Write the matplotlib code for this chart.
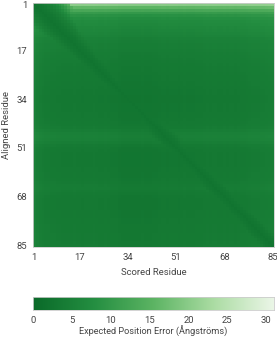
import numpy as np
import matplotlib
matplotlib.use("Agg")
import matplotlib.pyplot as plt
from matplotlib.colors import LinearSegmentedColormap

plt.rcParams['font.family'] = ['Roboto', 'DejaVu Sans']

# residue labels
tick_residues = [1, 17, 34, 51, 68, 85]
cbar_ticks = [0, 5, 10, 15, 20, 25, 30]

# expected error per aligned residue (row)
row_err = [19, 15, 12, 9.5, 8, 7, 6.5, 6.2, 5.8, 5.5,
           5.2, 4.9, 4.4, 4.2, 4, 4, 3.8, 3.6, 3.5, 3.4,
           3.3, 3.2, 3.1, 3.1, 3, 2.9, 2.9, 2.8, 2.8, 2.7,
           2.6, 2.6, 2.5, 2.5, 2.5, 2.6, 2.6, 2.6, 2.7, 2.7,
           2.8, 2.9, 3, 3.2, 3.7, 4.2, 4.4, 4.2, 3.7, 3.1,
           2.8, 2.7, 2.6, 2.6, 2.6, 2.6, 2.6, 2.7, 2.7, 2.8,
           2.8, 2.9, 3.1, 3.3, 3.4, 3.2, 3, 2.8, 2.7, 2.7,
           2.7, 2.7, 2.8, 2.8, 2.8, 2.9, 2.9, 3, 3, 3,
           3.1, 3.1, 3.1, 3.2, 3.3]
# extra error per scored residue (column)
col_err = [2, 1.5, 1.2, 1, 0.8, 0.8, 0.7, 0.7, 0.6, 0.6,
           0.5, 0.5, 0.5, 0.5, 0.6, 0.5, 0.5, 0.4, 0.5, 0.5,
           0.5, 0.6, 0.5, 0.4, 0.4, 0.5, 0.4, 0.3, 0.3, 0.3,
           0.1, 0, 0, 0, 0, 0, 0, 0, 0.1, 0,
           0, 0, 0.1, 0.1, 0.2, 0.3, 0.3, 0.2, 0.3, 0.3,
           0.3, 0.2, 0.3, 0.4, 0.3, 0.3, 0.3, 0.4, 0.4, 0.4,
           0.5, 0.6, 0.5, 0.6, 0.6, 0.5, 0.5, 0.6, 0.5, 0.6,
           0.6, 0.5, 0.6, 0.7, 0.7, 0.8, 0.9, 1, 1, 1,
           1.1, 1.1, 1.2, 1.3, 1.4]
# upper bound of the error close to the diagonal (offset 0, 1, 2, ...)
diag_cap = [2.3, 2.6, 2.9, 3.3, 3.8, 4.4, 5.1, 6, 7.2, 8.6, 10, 12, 14]

n = len(row_err)
pae = np.add.outer(np.array(row_err), np.array(col_err))
for k, cap in enumerate(diag_cap):
    idx = np.arange(n - k)
    pae[idx, idx + k] = np.minimum(pae[idx, idx + k], cap)
    pae[idx + k, idx] = np.minimum(pae[idx + k, idx], cap)

cmap = LinearSegmentedColormap.from_list(
    "pae", ['#0a6a29', '#248e41', '#5cb463', '#abdca3', '#ebf6e7'])

fig = plt.figure(figsize=(2.77, 3.43), dpi=100)
ax = fig.add_axes([0.119, 0.280, 0.870, 0.711])
ax.imshow(pae, cmap=cmap, vmin=0, vmax=30, aspect='auto',
          extent=(0.5, n + 0.5, n + 0.5, 0.5), interpolation='nearest')
ax.set_xticks(tick_residues)
ax.set_yticks(tick_residues)
ax.tick_params(length=0, labelsize=6.8, colors='#444444', pad=4)
for s in ax.spines.values():
    s.set_color('#cccccc')
    s.set_linewidth(0.6)
ax.set_xlabel('Scored Residue', fontsize=6.8, color='#444444', labelpad=5)
ax.set_ylabel('Aligned Residue', fontsize=6.8, color='#444444', labelpad=4)

cax = fig.add_axes([0.119, 0.096, 0.870, 0.038])
grad = np.linspace(0, 30, 256)[None, :]
cax.imshow(grad, cmap=cmap, vmin=0, vmax=30, aspect='auto', extent=(0, 31, 0, 1))
cax.set_yticks([])
cax.set_xticks(cbar_ticks)
cax.tick_params(length=0, labelsize=6.8, colors='#444444', pad=4)
for s in cax.spines.values():
    s.set_color('#cccccc')
    s.set_linewidth(0.6)
cax.set_xlabel('Expected Position Error (Ångströms)', fontsize=6.6,
               color='#444444', labelpad=1)

fig.savefig('out.png', dpi=100)
